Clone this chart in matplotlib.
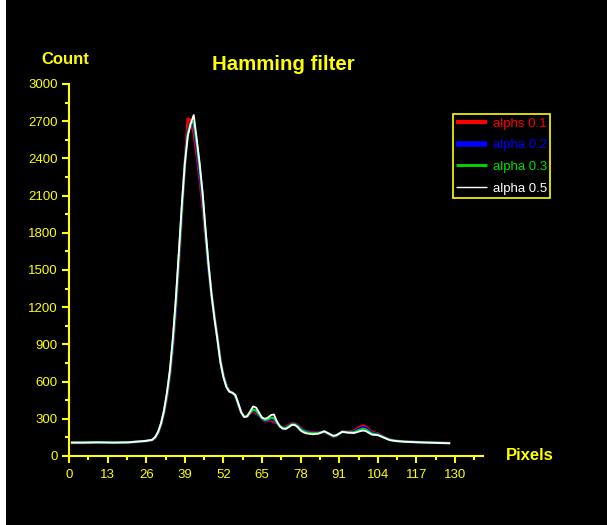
import numpy as np
import matplotlib
matplotlib.use("Agg")
import matplotlib.pyplot as plt
from matplotlib.patches import Rectangle
from matplotlib.ticker import MultipleLocator

plt.rcParams['font.family'] = ['Liberation Sans', 'DejaVu Sans']

# ---------------- data ----------------
pixels = [1, 5, 10, 15, 20, 24, 26, 28, 29, 30, 31, 32, 33, 34, 35, 36, 37, 38, 39, 40,
          41, 42, 43, 44, 45, 46, 47, 48, 49, 50, 51, 52, 53, 54, 55, 56, 57, 58, 59, 60,
          61, 62, 63, 64, 65, 66, 67, 68, 69, 70, 71, 72, 73, 74, 75, 76, 77, 78, 79, 80,
          82, 84, 86, 88, 89, 90, 92, 94, 96, 98, 99, 100, 102, 104, 106, 108, 110, 113,
          117, 122, 128]

alpha_01 = [106, 106, 108, 107, 109, 117, 121, 128, 145, 185, 255, 350, 480, 650, 890, 1200,
            1560, 1960, 2360, 2720, 2710, 2600, 2430, 2230, 2010, 1760, 1510, 1300, 1120, 950,
            770, 650, 570, 525, 510, 485, 415, 350, 318, 322, 345, 360, 345, 325, 300, 280,
            285, 290, 275, 265, 245, 230, 235, 250, 262, 262, 250, 228, 210, 198, 190, 188,
            192, 170, 155, 160, 198, 195, 205, 235, 245, 235, 195, 180, 155, 132, 122, 116,
            112, 108, 104]

alpha_02 = [107, 107, 109, 107, 109, 117, 121, 129, 147, 188, 258, 355, 490, 665, 910, 1225,
            1590, 1980, 2350, 2620, 2690, 2660, 2490, 2280, 2060, 1780, 1520, 1300, 1115, 945,
            765, 645, 565, 522, 510, 488, 418, 350, 316, 321, 348, 368, 355, 330, 302, 285,
            290, 300, 290, 268, 242, 228, 230, 245, 258, 258, 245, 222, 205, 194, 186, 186,
            195, 171, 158, 162, 196, 192, 198, 222, 232, 224, 188, 176, 152, 131, 122, 116,
            112, 108, 104]

alpha_03 = [108, 108, 110, 108, 110, 118, 122, 130, 150, 190, 260, 360, 500, 680, 930, 1250,
            1620, 2000, 2350, 2600, 2690, 2690, 2530, 2330, 2100, 1800, 1530, 1300, 1110, 940,
            760, 640, 560, 520, 510, 490, 420, 350, 315, 320, 350, 375, 365, 335, 305, 290,
            295, 310, 305, 270, 240, 225, 225, 240, 255, 255, 240, 215, 200, 190, 183, 185,
            198, 172, 160, 165, 195, 190, 192, 212, 220, 213, 180, 172, 150, 130, 122, 116,
            112, 108, 104]

alpha_05 = [108, 108, 110, 108, 110, 118, 122, 131, 152, 195, 265, 370, 515, 700, 960, 1280,
            1650, 2030, 2360, 2580, 2680, 2750, 2560, 2360, 2120, 1820, 1540, 1300, 1105, 935,
            755, 635, 555, 518, 510, 492, 425, 352, 314, 320, 360, 400, 390, 350, 310, 300,
            310, 330, 335, 280, 238, 220, 218, 232, 250, 250, 232, 205, 190, 182, 175, 180,
            200, 175, 163, 168, 195, 188, 185, 200, 205, 200, 172, 168, 148, 128, 121, 115,
            111, 107, 103]

labels = ['alphs 0.1', 'alpha 0.2', 'alpha 0.3', 'alpha 0.5']
colors = ['#ff0000', '#0000ff', '#00dd00', '#ffffff']
yellow = '#ffff00'

# ---------------- figure ----------------
W, H = 607, 525
fig = plt.figure(figsize=(W / 100, H / 100), dpi=100, facecolor='black')
fig.patches.append(Rectangle((0, 0), 6 / W, 1, transform=fig.transFigure,
                             facecolor='white', edgecolor='none'))

ax = fig.add_axes([69 / W, 1 - 456 / H, 414 / W, 372 / H])
ax.set_facecolor('black')

series = [alpha_01, alpha_02, alpha_03, alpha_05]
widths = [1.9, 1.9, 1.6, 1.3]
for ys, lab, c, lw in zip(series, labels, colors, widths):
    ax.plot(pixels, ys, color=c, lw=lw, label=lab)

ax.set_xlim(0, 139.4)
ax.set_ylim(0, 3000)
ax.xaxis.set_major_locator(MultipleLocator(13))
ax.xaxis.set_minor_locator(MultipleLocator(6.5))
ax.yaxis.set_major_locator(MultipleLocator(300))
ax.yaxis.set_minor_locator(MultipleLocator(150))

for s in ['top', 'right']:
    ax.spines[s].set_visible(False)
for s in ['left', 'bottom']:
    ax.spines[s].set_color(yellow)
    ax.spines[s].set_linewidth(1.5)

ax.tick_params(which='major', colors=yellow, length=5, width=1.5,
               labelsize=9.5, labelcolor=yellow, pad=3)
ax.tick_params(which='minor', colors=yellow, length=3, width=1.5)
ax.tick_params(axis='x', which='major', pad=4)

fig.text(283 / W, 1 - 64 / H, 'Hamming filter', color=yellow, fontsize=14.7,
         fontweight='bold', ha='center', va='center')
fig.text(65 / W, 1 - 59 / H, 'Count', color=yellow, fontsize=12,
         fontweight='bold', ha='center', va='center')
fig.text(530 / W, 1 - 456 / H, 'Pixels', color=yellow, fontsize=12,
         fontweight='bold', ha='center', va='center')

leg = ax.legend(loc='upper left', bbox_to_anchor=(453 / W, 1 - 114 / H),
                bbox_transform=fig.transFigure, borderaxespad=0, fancybox=False,
                facecolor='black', edgecolor=yellow, framealpha=1, fontsize=9.5,
                labelcolor='linecolor', handlelength=2.3, handletextpad=0.45,
                labelspacing=0.72, borderpad=0.25)
leg.get_frame().set_linewidth(1.2)
for h, lw in zip(leg.get_lines(), [3, 4, 2, 1]):
    h.set_linewidth(lw)
    h.set_solid_capstyle('butt')

fig.savefig('out.png', dpi=100, facecolor=fig.get_facecolor())
